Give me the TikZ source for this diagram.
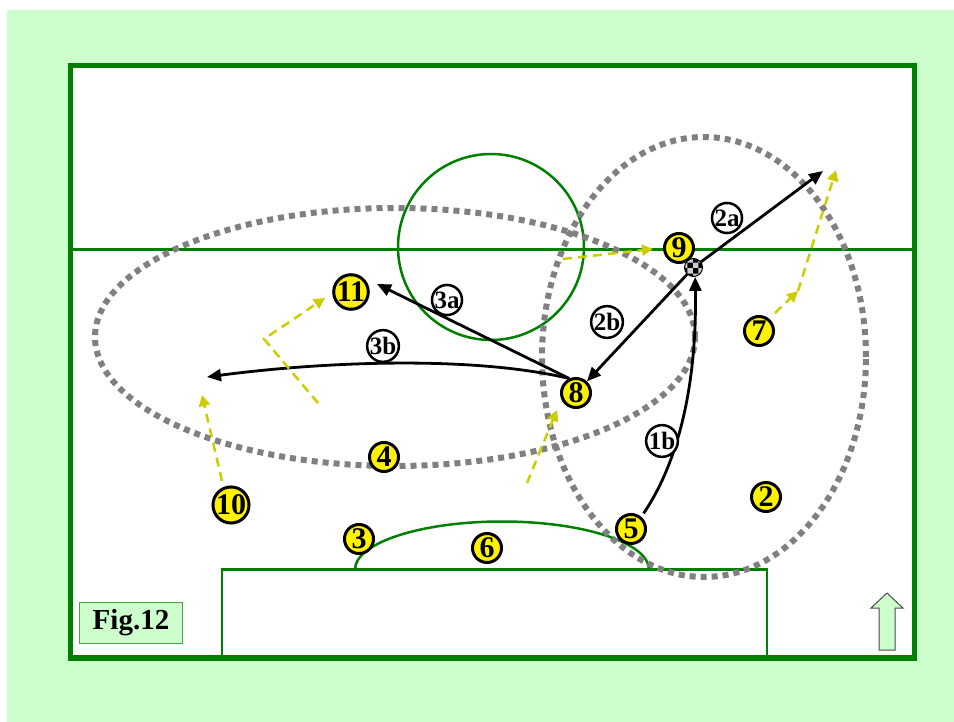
\documentclass[tikz,border=0pt]{standalone}
\usepackage{fontspec}
\setmainfont{Liberation Serif}
\usetikzlibrary{arrows.meta,patterns}
\definecolor{pitchgreen}{RGB}{0,128,0}
\definecolor{grass}{RGB}{204,255,204}
\definecolor{runyellow}{RGB}{204,204,0}
\definecolor{boxgreen}{RGB}{60,170,60}

\begin{document}
\begin{tikzpicture}[x=1pt,y=-1pt,
    player/.style={circle,draw,line width=3pt,fill=yellow,inner sep=0pt,
      minimum size=29pt,font=\bfseries\fontsize{30}{30}\selectfont},
    tag/.style={circle,draw,line width=2.5pt,fill=white,inner sep=0pt,
      minimum size=29pt,font=\bfseries\fontsize{25}{25}\selectfont},
    pass/.style={line width=2.8pt,-{Triangle[length=14pt,width=12pt]}},
    run/.style={runyellow,line width=2.5pt,dash pattern=on 9pt off 6pt,
      -{Triangle[length=11pt,width=11pt]}},
    zone/.style={gray,line width=6pt,dash pattern=on 6pt off 5pt},
    ballstyle/.style={circle,draw,line width=1pt,minimum size=18pt,inner sep=0pt,
      preaction={fill=white},pattern=checkerboard light gray}]
          \useasboundingbox (0,0) rectangle (954,722);
          \fill[grass] (7,10) rectangle (954,722);

          % pitch
          \fill[white] (70.5,65.5) rectangle (914.5,658);
          \draw[pitchgreen,line width=2.5pt] (222,569.5) rectangle (767,658);
          \draw[pitchgreen,line width=2.5pt] (355,569.5) arc[start angle=180,end angle=0,x radius=147pt,y radius=48pt];
          \draw[pitchgreen,line width=3.5pt] (70.5,249.5) -- (914.5,249.5);
          \draw[pitchgreen,line width=2.5pt] (491,247) circle (93pt);
          \draw[pitchgreen,line width=5.5pt] (70.5,65.5) rectangle (914.5,658);

          % zones
          \draw[zone] (395,337) ellipse [x radius=300pt,y radius=129pt];
          \draw[zone] (704,357) ellipse [x radius=162pt,y radius=220pt];

          % players
          \node[player] (n11) at (351,292) {11};
          \node[player] (n8) at (576,393) {8};
          \node[player] (n7) at (759,331) {7};
          \node[player] (n4) at (384,457) {4};
          \node[player] (n10) at (231,505) {10};
          \node[player] (n2) at (766,497) {2};
          \node[player] (n3) at (359,539) {3};
          \node[player] (n6) at (487,548) {6};
          \node[player] (n5) at (631,529) {5};
          \coordinate (ballpos) at (693.5,267.5);

          % passes
          \coordinate (t2a) at (823,171);
          \coordinate (t3a) at (377,284);
          \coordinate (t3b) at (207,377);
          \draw[pass] (ballpos) -- (t2a);
          \draw[pass] (ballpos) -- (n8);
          \draw[pass] (n8.115) -- (t3a);
          \draw[pass] (n8.115) .. controls (470,355) and (320,362) .. (t3b);
          \node[player] (n9) at (679,248) {9};
          \node[ballstyle] (ball) at (ballpos) {};
          \draw[pass,shorten <=4pt] (n5.50) .. controls (680,460) and (697,380) .. (ball.-80);

          % runs
          \coordinate (r9a) at (563,259);
          \coordinate (r9b) at (653,249);
          \coordinate (r11a) at (318,403);
          \coordinate (r11b) at (264,339);
          \coordinate (r11c) at (325,298);
          \coordinate (r10a) at (222,481);
          \coordinate (r10b) at (202,395);
          \coordinate (r8a) at (527,483);
          \coordinate (r8b) at (557,410);
          \coordinate (r7a) at (775,313);
          \coordinate (r7b) at (798,291);
          \coordinate (r7c) at (836,170);
          \draw[run] (r9a) -- (r9b);
          \draw[run] (r11a) -- (r11b) -- (r11c);
          \draw[run] (r10a) -- (r10b);
          \draw[run] (r8a) -- (r8b);
          \draw[run] (r7a) -- (r7b);
          \draw[run] (r7b) -- (r7c);

          % pass labels
          \node[tag] (l2a) at (727,218) {2a};
          \node[tag] (l2b) at (607,322) {2b};
          \node[tag] (l3a) at (447,300) {3a};
          \node[tag] (l3b) at (383,346) {3b};
          \node[tag] (l1b) at (662,441) {1b};

          % caption and direction of play
          \node[draw=boxgreen,line width=1pt,fill=grass,minimum width=103pt,minimum height=41pt,
            font=\bfseries\fontsize{29}{29}\selectfont] (fig) at (131,623) {Fig.12};
          \filldraw[fill=grass,draw=black!70,line width=1pt] (879,650) -- (879,608) -- (871,608)
            -- (887,593) -- (903,608) -- (895,608) -- (895,650) -- cycle;
\end{tikzpicture}
\end{document}
